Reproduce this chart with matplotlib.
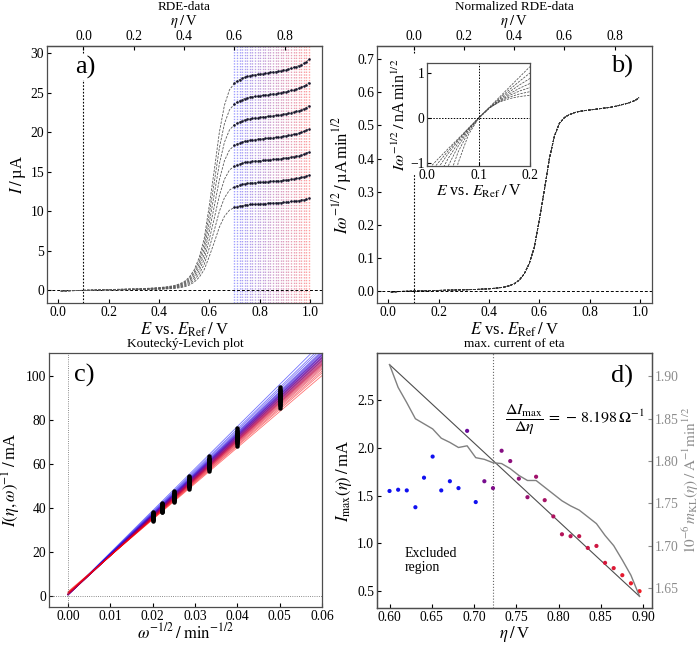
import numpy as np
import matplotlib
matplotlib.use('Agg')
import matplotlib.pyplot as plt
from matplotlib.colors import LinearSegmentedColormap

plt.rcParams['font.family'] = ['Liberation Serif', 'DejaVu Serif']
plt.rcParams['mathtext.fontset'] = 'stix'
plt.rcParams['font.size'] = 9.8
plt.rcParams['axes.labelsize'] = 12
plt.rcParams['axes.titlesize'] = 9.5
plt.rcParams['xtick.direction'] = 'in'
plt.rcParams['ytick.direction'] = 'in'
plt.rcParams['xtick.major.size'] = 3
plt.rcParams['ytick.major.size'] = 3
plt.rcParams['axes.edgecolor'] = '0.3'
plt.rcParams['axes.linewidth'] = 0.9

# ---------------- data ----------------
E_eq = 0.1                                   # equilibrium potential (V)
omega_rpm = [400, 625, 900, 1225, 1600, 2025, 2500]   # rotation rates, min^-1

# normalized current I*omega^-1/2 (uA min^1/2), rising part of the wave
E_wave = [0.01, 0.05, 0.10, 0.15, 0.20, 0.25, 0.30, 0.35, 0.40, 0.43, 0.46,
          0.48, 0.50, 0.52, 0.54, 0.56, 0.58, 0.60, 0.62, 0.64, 0.66, 0.68]
n_wave = [-0.003, -0.001, 0.000, 0.001, 0.002, 0.003, 0.004, 0.005, 0.007,
          0.009, 0.012, 0.016, 0.022, 0.033, 0.052, 0.083, 0.132, 0.215,
          0.305, 0.400, 0.468, 0.507]

# overpotentials used for the analysis (V)
eta_d = [0.6000, 0.6102, 0.6204, 0.6306, 0.6408, 0.6510, 0.6612, 0.6714,
         0.6816, 0.6918, 0.7020, 0.7122, 0.7224, 0.7326, 0.7428, 0.7530,
         0.7632, 0.7734, 0.7836, 0.7938, 0.8040, 0.8142, 0.8244, 0.8346,
         0.8448, 0.8550, 0.8652, 0.8754, 0.8856, 0.8958]
# normalized plateau current at E = eta + E_eq (uA min^1/2)
n_plat = [0.524, 0.529, 0.533, 0.536, 0.539, 0.541, 0.543, 0.544, 0.545,
          0.546, 0.547, 0.548, 0.549, 0.550, 0.551, 0.552, 0.553, 0.554,
          0.555, 0.557, 0.558, 0.560, 0.562, 0.564, 0.566, 0.568, 0.571,
          0.574, 0.578, 0.584]

# inset: I*omega^-1/2 (nA min^1/2) near E_eq for the seven rotation rates
E_inset = [0.00, 0.02, 0.04, 0.06, 0.08, 0.10, 0.12, 0.14, 0.16, 0.18, 0.20]
inset_curves = [
    [-1.15, -0.91, -0.68, -0.455, -0.227, 0.0, 0.227, 0.453, 0.68, 0.905, 1.13],
    [-1.28, -1.00, -0.73, -0.474, -0.231, 0.0, 0.219, 0.427, 0.625, 0.812, 0.99],
    [-1.48, -1.12, -0.79, -0.499, -0.236, 0.0, 0.213, 0.404, 0.576, 0.731, 0.87],
    [-1.83, -1.33, -0.90, -0.548, -0.250, 0.0, 0.210, 0.385, 0.533, 0.657, 0.76],
    [-2.41, -1.66, -1.07, -0.620, -0.271, 0.0, 0.210, 0.372, 0.497, 0.595, 0.67],
    [-3.62, -2.30, -1.38, -0.746, -0.305, 0.0, 0.212, 0.359, 0.461, 0.531, 0.58],
    [-6.73, -3.78, -2.03, -0.988, -0.368, 0.0, 0.219, 0.349, 0.427, 0.473, 0.50],
]

# Koutecky-Levich results
I_max = [1.548, 1.561, 1.554, 1.378, 1.687, 1.908, 1.554, 1.650, 1.578, 2.177,
         1.432, 1.650, 1.578, 1.969, 1.861, 1.677, 1.483, 1.697, 1.452, 1.282,
         1.095, 1.075, 1.075, 0.952, 0.973, 0.796, 0.741, 0.667, 0.582, 0.500]
m_KL = [1.914, 1.887, 1.869, 1.850, 1.844, 1.838, 1.827, 1.822, 1.816, 1.818,
        1.804, 1.802, 1.798, 1.797, 1.791, 1.783, 1.777, 1.777, 1.769, 1.761,
        1.753, 1.747, 1.742, 1.734, 1.726, 1.712, 1.700, 1.683, 1.665, 1.640]
blue_points = [0, 1, 2, 3, 4, 5, 6, 7, 8, 10]
eta_cut = 0.7224
fit_slope = -8.198
fit_intercept = 7.789

# ---------------- derived ----------------
E_plat = np.array(eta_d) + E_eq
E_full = np.concatenate([E_wave, E_plat])
n_full = np.concatenate([n_wave, n_plat])
br = LinearSegmentedColormap.from_list('br', ['#0000ff', '#ff0000'])
pr = LinearSegmentedColormap.from_list('pr', ['#6a0a9a', '#f01c24'])
npl = len(eta_d)
SL = r'\:/\:'

fig = plt.figure(figsize=(7.0, 6.45), dpi=100)
axa = fig.add_axes([0.0671, 0.5302, 0.393, 0.3985])
axb = fig.add_axes([0.5386, 0.5302, 0.3929, 0.3985])
axc = fig.add_axes([0.0700, 0.0590, 0.3900, 0.3937])
axd = fig.add_axes([0.5386, 0.0574, 0.3929, 0.3953])

def top_eta(ax):
    sec = ax.secondary_xaxis('top', functions=(lambda x: x - E_eq, lambda x: x + E_eq))
    sec.set_xticks([0.0, 0.2, 0.4, 0.6, 0.8])
    sec.set_xlabel(r'$\eta' + SL + r'$V', labelpad=4, fontsize=10.5)
    sec.tick_params(direction='in', length=3, pad=2)
    return sec

# ---------------- panel a ----------------
for i, E in enumerate(E_plat):
    axa.axvline(E, color=br(i / (npl - 1)), ls=(0, (1, 1)), lw=1.0, alpha=0.38, zorder=0)
for w in omega_rpm:
    axa.plot(E_full, n_full * np.sqrt(w), color='0.35', lw=0.6, ls=(0, (3, 1.5)), zorder=2)
    axa.plot(E_plat, np.array(n_plat) * np.sqrt(w), '.', color='#15152a', ms=1.7, zorder=3)
axa.axhline(0, color='k', ls=(0, (3, 2)), lw=0.7, zorder=1)
axa.axvline(E_eq, color='k', ls=(0, (1.5, 1.5)), lw=0.8, zorder=1)
axa.set_xlim(-0.045, 1.048)
axa.set_ylim(-1.6, 30.9)
axa.set_yticks([0, 5, 10, 15, 20, 25, 30])
axa.set_xlabel(r'$E$ vs. $E_{\mathrm{Ref}}' + SL + r'$V', labelpad=1)
axa.set_ylabel(r'$I' + SL + r'$µA', labelpad=2)
top_eta(axa)
axa.set_title('RDE-data', pad=0)
axa.text(0.138, 0.918, 'a)', transform=axa.transAxes, fontsize=19, ha='center',
         va='center', zorder=5, bbox=dict(fc='white', ec='none', pad=1.0))

# ---------------- panel b ----------------
for w in omega_rpm:
    axb.plot(E_full, n_full, color='0.2', lw=0.6, ls=(0, (3, 1.5)))
axb.axhline(0, color='k', ls=(0, (3, 2)), lw=0.7)
axb.axvline(E_eq, ymin=0.0, ymax=0.506, color='k', ls=(0, (1.5, 1.5)), lw=0.8)
axb.axvline(E_eq, ymin=0.972, ymax=1.0, color='k', ls=(0, (1.5, 1.5)), lw=0.8)
axb.set_xlim(-0.045, 1.048)
axb.set_ylim(-0.036, 0.74)
axb.set_yticks(np.arange(0, 0.71, 0.1))
axb.set_xlabel(r'$E$ vs. $E_{\mathrm{Ref}}' + SL + r'$V', labelpad=1)
axb.set_ylabel(r'$I\omega^{-1/2}' + SL + r'$µA$\,$min$^{1/2}$', labelpad=2)
top_eta(axb)
axb.set_title('Normalized RDE-data', pad=0)
axb.text(0.89, 0.92, 'b)', transform=axb.transAxes, fontsize=19, ha='center', va='center')

axi = axb.inset_axes([0.183, 0.534, 0.373, 0.398])
for row in inset_curves:
    axi.plot(E_inset, row, color='0.3', lw=0.55, ls=(0, (3, 1.5)))
axi.axhline(0, color='k', ls=(0, (1.5, 1.5)), lw=0.7)
axi.axvline(E_eq, color='k', ls=(0, (1.5, 1.5)), lw=0.7)
axi.set_xlim(0, 0.2)
axi.set_ylim(-1.05, 1.2)
axi.set_xticks([0.0, 0.1, 0.2])
axi.set_yticks([-1, 0, 1])
axi.tick_params(labelsize=9.8, pad=2)
axi.set_xlabel(r'$E$ vs. $E_{\mathrm{Ref}}' + SL + r'$V', labelpad=1, fontsize=11.5)
axi.set_ylabel(r'$I\omega^{-1/2}' + SL + r'$nA$\,$min$^{1/2}$', labelpad=1, fontsize=11.5)

# ---------------- panel c ----------------
x_line = np.array([0.0, 0.061])
for i in range(npl):
    axc.plot(x_line, 1.0 / I_max[i] + 1000.0 * m_KL[i] * x_line,
             color=br(i / (npl - 1)), lw=0.6, alpha=0.55)
for w in omega_rpm:
    yv = 1000.0 / (np.array(n_plat) * np.sqrt(w))
    axc.plot(np.full(npl, 1.0 / np.sqrt(w)), yv, 'o', color='k', ms=2.2, zorder=4)
axc.axhline(0, color='0.4', ls=':', lw=0.6)
axc.axvline(0, color='0.4', ls=':', lw=0.6)
axc.set_xlim(-0.0045, 0.06)
axc.set_ylim(-5, 110.7)
axc.set_xticks(np.arange(0, 0.061, 0.01))
axc.set_yticks(np.arange(0, 101, 20))
axc.set_xlabel(r'$\omega^{-1/2}' + SL + r'\mathrm{min}^{-1/2}$', labelpad=0)
axc.set_ylabel(r'$I(\eta,\omega)^{-1}' + SL + r'$mA', labelpad=2)
axc.set_title('Koutecký-Levich plot', pad=4)
axc.text(0.128, 0.91, 'c)', transform=axc.transAxes, fontsize=19, ha='center', va='center')

# ---------------- panel d ----------------
cols = []
for i, e in enumerate(eta_d):
    if i in blue_points:
        cols.append('#1010f0')
    else:
        cols.append(pr((e - eta_d[9]) / (eta_d[-1] - eta_d[9])))
axd.scatter(eta_d, I_max, c=cols, s=9, zorder=3, linewidths=0)
eta_fit = np.array([eta_d[0], eta_d[-1]])
axd.plot(eta_fit, fit_intercept + fit_slope * eta_fit, color='0.3', lw=0.8, zorder=2)
axd.axvline(eta_cut, color='0.4', ls=':', lw=0.8)
axd.set_xticks(np.arange(0.60, 0.91, 0.05))
axd.set_yticks([0.5, 1.0, 1.5, 2.0, 2.5])
axd.set_xlabel(r'$\eta' + SL + r'$V', labelpad=0)
axd.set_ylabel(r'$I_{\max}(\eta)' + SL + r'$mA', labelpad=2)
axd.set_title('max. current of eta', pad=4)
axd.text(0.89, 0.91, 'd)', transform=axd.transAxes, fontsize=19, ha='center', va='center')
axd.text(0.618, 0.82, 'Excluded\nregion', fontsize=10, va='center', ha='left', linespacing=1.1)
axd.text(0.737, 2.29, r'$\dfrac{\Delta I_{\max}}{\Delta\eta}\,=\,-\,%.3f\,\Omega^{-1}$' % abs(fit_slope),
         fontsize=11.5, va='center', ha='left')

axd2 = axd.twinx()
axd2.plot(eta_d, m_KL, color='0.5', lw=1.0)
axd2.set_yticks([1.65, 1.70, 1.75, 1.80, 1.85, 1.90])
axd2.tick_params(axis='y', colors='0.55', direction='in', pad=2)
axd2.set_ylabel(r'$10^{-6}\,m_{\mathrm{KL}}(\eta)' + SL + r'\mathrm{A}^{-1}\mathrm{min}^{1/2}$',
                color='0.55', labelpad=1, fontsize=11)

for ax in (axa, axb, axc, axd, axi):
    ax.tick_params(pad=2)

fig.savefig('out.png', dpi=100)
